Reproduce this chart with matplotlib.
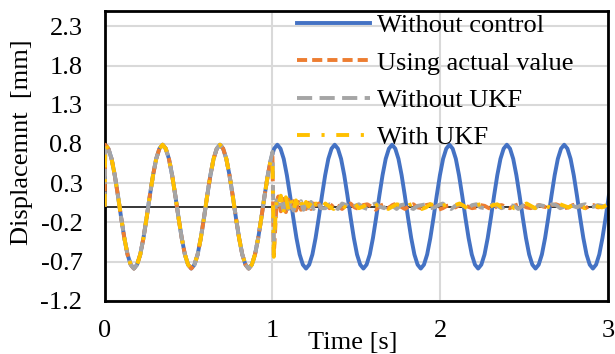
import numpy as np
import matplotlib
matplotlib.use("Agg")
import matplotlib.pyplot as plt

# ---------------- data ----------------
# free vibration (without control): sampled every 0.019 s, first sample at t=0
t_free = np.concatenate([[0.0], np.round(0.003 + 0.019 * np.arange(159), 3)])
without_control = [
    0.00,
    0.79, 0.74, 0.61, 0.40, 0.14, -0.14, -0.40, -0.61, -0.74, -0.79, -0.74, -0.61, -0.40, -0.14, 0.14, 0.40, 0.61, 0.74,
    0.79, 0.74, 0.61, 0.40, 0.14, -0.14, -0.40, -0.61, -0.74, -0.79, -0.74, -0.61, -0.40, -0.14, 0.14, 0.40, 0.61, 0.74,
    0.79, 0.74, 0.61, 0.40, 0.14, -0.14, -0.40, -0.61, -0.74, -0.79, -0.74, -0.61, -0.40, -0.14, 0.14, 0.40, 0.61, 0.74,
    0.79, 0.74, 0.61, 0.40, 0.14, -0.14, -0.40, -0.61, -0.74, -0.79, -0.74, -0.61, -0.40, -0.14, 0.14, 0.40, 0.61, 0.74,
    0.79, 0.74, 0.61, 0.40, 0.14, -0.14, -0.40, -0.61, -0.74, -0.79, -0.74, -0.61, -0.40, -0.14, 0.14, 0.40, 0.61, 0.74,
    0.79, 0.74, 0.61, 0.40, 0.14, -0.14, -0.40, -0.61, -0.74, -0.79, -0.74, -0.61, -0.40, -0.14, 0.14, 0.40, 0.61, 0.74,
    0.79, 0.74, 0.61, 0.40, 0.14, -0.14, -0.40, -0.61, -0.74, -0.79, -0.74, -0.61, -0.40, -0.14, 0.14, 0.40, 0.61, 0.74,
    0.79, 0.74, 0.61, 0.40, 0.14, -0.14, -0.40, -0.61, -0.74, -0.79, -0.74, -0.61, -0.40, -0.14, 0.14, 0.40, 0.61, 0.74,
    0.79, 0.74, 0.61, 0.40, 0.14, -0.14, -0.40, -0.61, -0.74, -0.79, -0.74, -0.61, -0.40, -0.14, 0.14,
]
n_pre = 54  # controlled responses coincide with free vibration until ~0.99 s

# controlled responses after control starts (~1.0 s)
t_ctrl_early = [1.000, 1.008, 1.016, 1.025, 1.035, 1.050, 1.065, 1.080, 1.095, 1.110, 1.125,
                1.140, 1.155, 1.170, 1.185, 1.200, 1.215, 1.230, 1.245, 1.260, 1.275, 1.290]
t_ctrl_late = np.round(1.315 + 0.025 * np.arange(68), 3)

actual_early = [0.64, -0.62, -0.30, 0.06, 0.13, -0.06, 0.10, -0.07, 0.09, -0.05, 0.07,
                -0.05, 0.06, -0.04, 0.05, -0.03, 0.05, -0.03, 0.04, -0.03, 0.04, -0.02]
actual_late = [0.03, -0.02, 0.04, 0.01, -0.03, 0.02, 0.04, -0.01, -0.03, 0.02,
               0.03, 0.00, -0.04, 0.01, 0.03, -0.02, 0.02, 0.04, 0.00, -0.03,
               0.01, 0.03, -0.01, -0.02, 0.02, 0.03, -0.01, -0.04, -0.02, 0.01,
               0.02, -0.01, 0.02, 0.03, 0.00, -0.02, -0.01, 0.02, 0.01, -0.02,
               -0.03, 0.01, 0.02, 0.00, -0.02, 0.01, 0.03, 0.02, -0.01, -0.02,
               0.01, 0.02, 0.00, -0.01, 0.02, 0.03, 0.01, -0.02, -0.01, 0.02,
               0.03, 0.00, -0.02, 0.01, 0.02, -0.01, 0.00, 0.01]

noukf_early = [0.70, -0.45, -0.10, 0.08, 0.02, 0.09, -0.04, 0.11, -0.03, 0.08, -0.05,
               0.06, 0.02, 0.07, -0.04, 0.05, -0.02, 0.06, -0.03, 0.03, 0.04, -0.02]
noukf_late = [-0.02, 0.03, 0.01, -0.03, 0.04, 0.02, -0.02, 0.01, 0.03, -0.01,
              -0.03, 0.02, 0.04, 0.00, -0.02, 0.03, 0.01, -0.03, 0.02, 0.03,
              -0.01, -0.03, 0.01, 0.02, 0.03, -0.02, -0.01, 0.02, 0.04, 0.00,
              -0.03, 0.01, 0.03, 0.01, -0.02, 0.02, 0.03, -0.01, -0.02, 0.01,
              0.03, 0.01, -0.02, 0.00, 0.02, 0.01, -0.03, 0.01, 0.03, 0.00,
              -0.02, 0.02, 0.01, -0.01, 0.03, 0.02, -0.02, 0.00, 0.02, 0.01,
              -0.01, 0.02, 0.03, -0.01, 0.00, 0.02, 0.01, -0.01]

ukf_early = [0.60, -0.64, -0.20, 0.10, 0.03, 0.14, -0.08, 0.12, -0.04, 0.09, -0.06,
             0.08, -0.02, 0.07, -0.05, 0.06, 0.00, 0.05, -0.04, 0.04, 0.01, -0.03]
ukf_late = [0.04, 0.00, -0.03, 0.03, 0.02, -0.02, 0.03, 0.04, -0.02, 0.00,
            0.03, -0.02, 0.01, 0.04, 0.02, -0.03, 0.00, 0.03, 0.02, -0.02,
            0.02, 0.04, 0.00, -0.03, -0.01, 0.03, 0.02, -0.02, 0.01, 0.03,
            -0.01, 0.02, 0.04, 0.01, -0.03, 0.00, 0.02, 0.03, -0.01, -0.02,
            0.02, 0.03, -0.01, 0.01, 0.03, -0.02, -0.01, 0.02, 0.04, 0.01,
            -0.02, 0.01, 0.03, 0.00, -0.02, 0.02, 0.03, 0.01, -0.01, 0.02,
            0.03, 0.01, -0.02, 0.02, 0.03, 0.00, -0.01, 0.02]

x_ticks = [0, 1, 2, 3]
x_tick_labels = ["0", "1", "2", "3"]
y_ticks = [-1.2, -0.7, -0.2, 0.3, 0.8, 1.3, 1.8, 2.3]
y_tick_labels = ["-1.2", "-0.7", "-0.2", "0.3", "0.8", "1.3", "1.8", "2.3"]
labels = ["Without control", "Using actual value", "Without UKF", "With UKF"]


def controlled(early, late):
    t = np.concatenate([t_free[:n_pre], t_ctrl_early, t_ctrl_late])
    y = np.concatenate([without_control[:n_pre], early, late])
    return t, y


# ---------------- figure ----------------
plt.rcParams['font.family'] = ['Liberation Serif', 'DejaVu Serif']
plt.rcParams['font.size'] = 19

W, H = 615, 354
fig = plt.figure(figsize=(W / 100, H / 100), dpi=100)
L, R, T, B = 104.7, 608.0, 10.7, 300.7
ax = fig.add_axes([L / W, 1 - B / H, (R - L) / W, (B - T) / H])

ax.set_xlim(0, 3)
ax.set_ylim(-1.2, 2.5)
ax.set_xticks(x_ticks)
ax.set_xticklabels(x_tick_labels)
ax.set_yticks(y_ticks)
ax.set_yticklabels(y_tick_labels)
ax.tick_params(length=0)
ax.tick_params(axis='y', pad=16)
ax.tick_params(axis='x', pad=14)
ax.grid(True, color='#D9D9D9', lw=1.5)
ax.set_axisbelow(True)
for s in ax.spines.values():
    s.set_color('black')
    s.set_linewidth(2.0)

ax.axhline(0, color='black', lw=1.1, zorder=1.5)

lw = 2.8
ax.plot(t_free, without_control, color='#4472C4', lw=lw, label=labels[0], zorder=2)
t1, y1 = controlled(actual_early, actual_late)
ax.plot(t1, y1, color='#ED7D31', lw=lw, linestyle=(0, (2.6, 1.3)), label=labels[1], zorder=3)
t2, y2 = controlled(noukf_early, noukf_late)
ax.plot(t2, y2, color='#A5A5A5', lw=lw, linestyle=(0, (3.9, 1.9)), label=labels[2], zorder=4)
t3, y3 = controlled(ukf_early, ukf_late)
ax.plot(t3, y3, color='#FFC000', lw=lw, linestyle=(0, (3.3, 3, 0.8, 3)), label=labels[3], zorder=5)

leg = ax.legend(loc='upper left', bbox_to_anchor=(297 / W, 1 - 14 / H),
                bbox_transform=fig.transFigure, frameon=False,
                borderpad=0, borderaxespad=0, handlelength=2.77,
                handletextpad=0.27, labelspacing=0.52, fontsize=19)

fig.text(22 / W, 1 - 142 / H, "Displacemnt  [mm]", rotation=90,
         ha='center', va='center', fontsize=19)
fig.text(353 / W, 1 - 343 / H, "Time [s]", ha='center', va='center', fontsize=19)

fig.savefig("out.png", dpi=100)
